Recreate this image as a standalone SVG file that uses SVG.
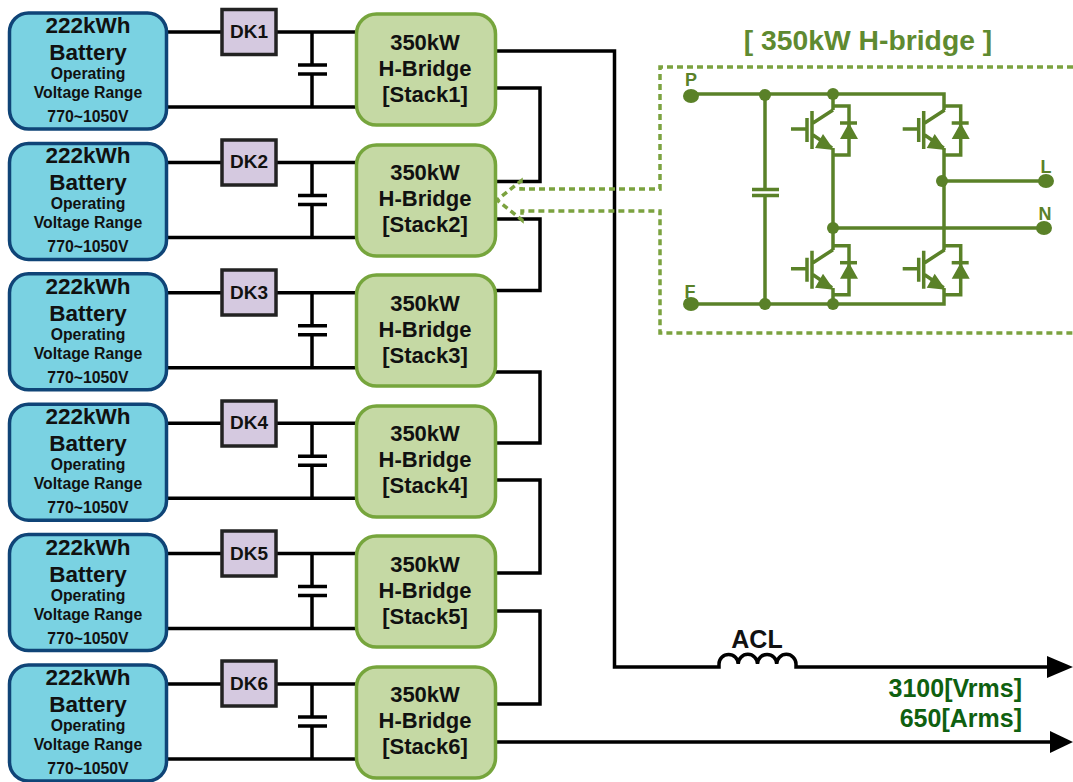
<svg xmlns="http://www.w3.org/2000/svg" width="1073" height="782" viewBox="0 0 1073 782">
<style>
text{font-family:"Liberation Sans",Arial,sans-serif;font-weight:bold;text-anchor:middle;fill:#111}
.bat rect{fill:#7ad2e2;stroke:#0f4477;stroke-width:3.500}
.stk rect{fill:#c5d9a4;stroke:#76a53c;stroke-width:3.500}
.dk rect{fill:#d5c9e0;stroke:#222;stroke-width:3.500}
.b1{font-size:22.500px}.b2{font-size:15.800px}
.s{font-size:22px}.d{font-size:19px}
.w{fill:none;stroke:#000;stroke-width:3.500}
.c{fill:none;stroke:#5a8128;stroke-width:3.500}
.cf{fill:#5a8128;stroke:none}
.cl{fill:#5a8128;font-size:18px}
.ar{fill:#0f6010;font-size:25px;text-anchor:end}
</style>
<defs>
<g id="batt" class="bat"><rect x="9.500" y="0" width="157" height="116" rx="19"/>
<text x="88" y="20" class="b1">222kWh</text><text x="88" y="47" class="b1">Battery</text>
<text x="88" y="66" class="b2">Operating</text><text x="88" y="85" class="b2">Voltage Range</text><text x="88" y="109" class="b2">770~1050V</text></g>
<g id="wire"><path class="w" d="M167,19H221M277,19H356M167,94H356M312,19V52M312,61V94M298,52H327M298,61H327"/></g>
<g id="igbt"><path class="c" d="M833,106H849V155H833M849,106V123M849,138V155M791,129H807M807,118V142M812,111V149M833,110L813,123M813,135L832,148"/>
<path class="c" d="M840,123H857"/>
<path class="cf" d="M840,139L849,123L858,139ZM815,148L823,134L834,150Z"/></g>
</defs>
<g id="connectors">
<use href="#wire" y="13"/><use href="#wire" y="143.400"/><use href="#wire" y="273.800"/><use href="#wire" y="404.200"/><use href="#wire" y="534.600"/><use href="#wire" y="665"/>
<path class="w" d="M496,51H614.500V667H719V664A9.600,9.600 0 0 1 738.200,664A9.600,9.600 0 0 1 757.500,664A9.600,9.600 0 0 1 776.700,664A9.600,9.600 0 0 1 796,664V667H1050"/>
<path d="M1047,656L1073,667L1047,678Z"/>
<path class="w" d="M496,88H540V181.500H496M496,219H540V290.500H496M496,372H540V443H496M496,480H540V573H496M496,611H540V704H496M496,742H1055"/>
<path d="M1050,731L1073,742L1050,753Z"/>
</g>
<g id="battery1"><use href="#batt" y="13"/></g>
<g id="battery2"><use href="#batt" y="143.400"/></g>
<g id="battery3"><use href="#batt" y="273.800"/></g>
<g id="battery4"><use href="#batt" y="404.200"/></g>
<g id="battery5"><use href="#batt" y="534.600"/></g>
<g id="battery6"><use href="#batt" y="665"/></g>
<g id="dk1" class="dk"><rect x="222" y="9.500" width="54" height="45"/><text x="249" y="38" class="d">DK1</text></g>
<g id="dk2" class="dk"><rect x="222" y="140" width="54" height="45"/><text x="249" y="168" class="d">DK2</text></g>
<g id="dk3" class="dk"><rect x="222" y="270" width="54" height="45"/><text x="249" y="299" class="d">DK3</text></g>
<g id="dk4" class="dk"><rect x="222" y="401" width="54" height="45"/><text x="249" y="429" class="d">DK4</text></g>
<g id="dk5" class="dk"><rect x="222" y="531" width="54" height="45"/><text x="249" y="560" class="d">DK5</text></g>
<g id="dk6" class="dk"><rect x="222" y="661" width="54" height="45"/><text x="249" y="690" class="d">DK6</text></g>
<g id="stack1" class="stk"><rect x="356.500" y="14" width="139" height="111" rx="20"/><text x="425" y="50" class="s">350kW</text><text x="425" y="76" class="s">H-Bridge</text><text x="425" y="102" class="s">[Stack1]</text></g>
<g id="stack2" class="stk"><rect x="356.500" y="145" width="139" height="111" rx="20"/><text x="425" y="180" class="s">350kW</text><text x="425" y="206" class="s">H-Bridge</text><text x="425" y="232" class="s">[Stack2]</text></g>
<g id="stack3" class="stk"><rect x="356.500" y="275" width="139" height="111" rx="20"/><text x="425" y="311" class="s">350kW</text><text x="425" y="337" class="s">H-Bridge</text><text x="425" y="363" class="s">[Stack3]</text></g>
<g id="stack4" class="stk"><rect x="356.500" y="406" width="139" height="111" rx="20"/><text x="425" y="441" class="s">350kW</text><text x="425" y="467" class="s">H-Bridge</text><text x="425" y="493" class="s">[Stack4]</text></g>
<g id="stack5" class="stk"><rect x="356.500" y="536" width="139" height="111" rx="20"/><text x="425" y="572" class="s">350kW</text><text x="425" y="598" class="s">H-Bridge</text><text x="425" y="624" class="s">[Stack5]</text></g>
<g id="stack6" class="stk"><rect x="356.500" y="667" width="139" height="111" rx="20"/><text x="425" y="702" class="s">350kW</text><text x="425" y="728" class="s">H-Bridge</text><text x="425" y="754" class="s">[Stack6]</text></g>
<g id="hbridge-detail">
<text x="868" y="50" style="fill:#5f8a30;font-size:28.300px">[ 350kW H-bridge ]</text>
<path d="M1073,67H660V189H521V181L497,200L522,220V211H660V333H1073" fill="none" stroke="#7ba23f" stroke-width="3.500" stroke-dasharray="6 4"/>
<path class="c" d="M691,94H944V110M944,148V250M944,288V304H691M765,95V190M765,195V304M833,94V110M833,148V250M833,288V304M942,181H1046M833,228H1044M752,189.500H779M752,195.500H779"/>
<g class="cf"><ellipse cx="691" cy="96" rx="8" ry="7"/><ellipse cx="691" cy="304" rx="8" ry="7"/><circle cx="765" cy="95" r="6"/><circle cx="833" cy="94" r="6"/><circle cx="765" cy="304" r="6"/><circle cx="833" cy="304" r="6"/><circle cx="942" cy="181" r="6"/><circle cx="833" cy="228" r="6"/><ellipse cx="1046" cy="181" rx="8" ry="7"/><ellipse cx="1044" cy="228" rx="8" ry="7"/></g>
<use href="#igbt"/><use href="#igbt" x="111.700"/><use href="#igbt" y="139.700"/><use href="#igbt" x="111.700" y="139.700"/>
<text x="691" y="86" class="cl">P</text><text x="690" y="298" class="cl">F</text><text x="1046" y="173" class="cl">L</text><text x="1045" y="220" class="cl">N</text>
</g>
<text x="757" y="648" style="font-size:25px">ACL</text>
<text x="1022" y="697" class="ar">3100[Vrms]</text>
<text x="1022" y="727" class="ar">650[Arms]</text>
</svg>
